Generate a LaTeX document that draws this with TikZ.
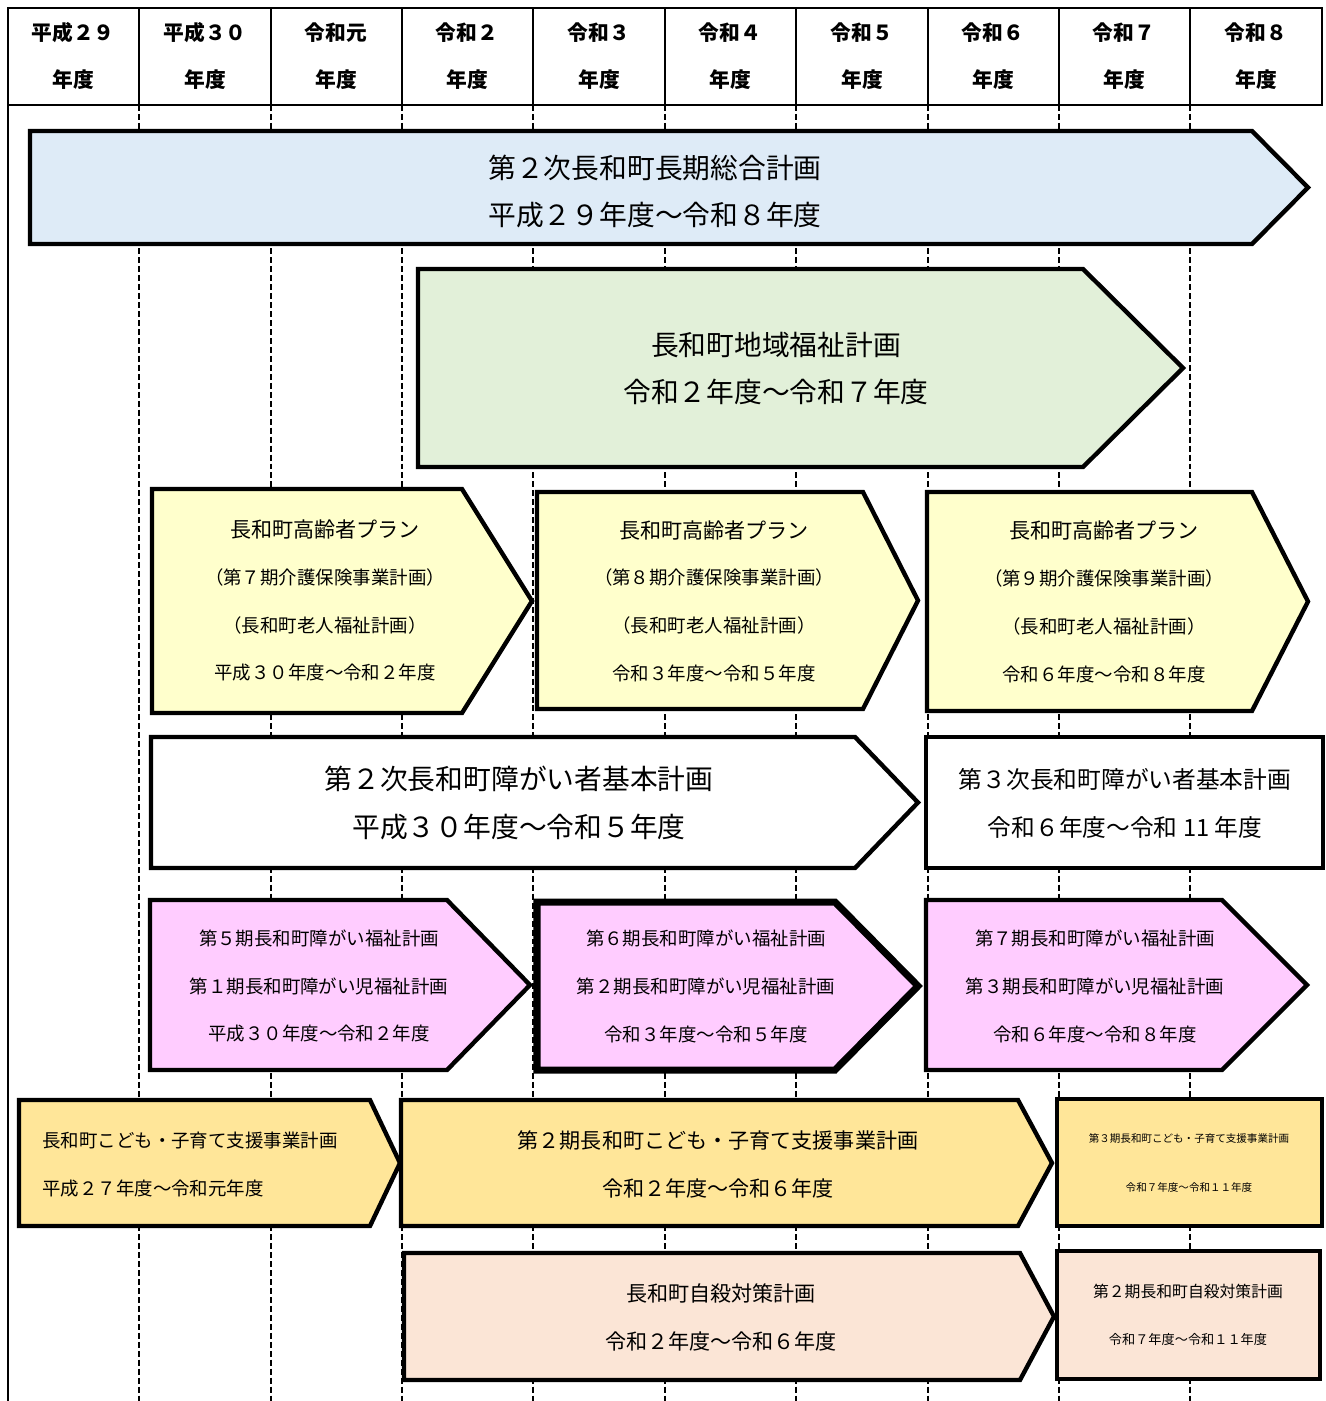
\documentclass[tikz,border=0pt]{standalone}
\usepackage{fontspec}
\setmainfont{Noto Sans CJK JP}
\definecolor{planblue}{RGB}{222,235,247}
\definecolor{plangreen}{RGB}{226,240,217}
\definecolor{planyellow}{RGB}{255,255,204}
\definecolor{planpink}{RGB}{255,204,255}
\definecolor{planorange}{RGB}{255,230,153}
\definecolor{planpeach}{RGB}{251,229,214}
\def\planarrow[#1](#2,#3)(#4,#5)(#6){\draw[#1] (#2,#3) -- (#4,#3) -- (#6,{(#3+#5)/2}) -- (#4,#5) -- (#2,#5) -- cycle;}

\begin{document}
\begin{tikzpicture}[x=0.2mm, y=-0.2mm,
		plan/.style={line width=2.5pt, line join=miter},
		yearline/.style={line width=0.8pt, dash pattern=on 3.4pt off 1.7pt},
		headtxt/.style={inner sep=0pt, font=\fontsize{11.8}{14}\selectfont\bfseries},
		bigtxt/.style={inner sep=0pt, font=\fontsize{15.8}{18}\selectfont},
		midtxt/.style={inner sep=0pt, font=\fontsize{12}{14}\selectfont},
		smalltxt/.style={inner sep=0pt, font=\fontsize{10.5}{12}\selectfont}]
			%%%%% START %%%%%
			\useasboundingbox (0,0) rectangle (1326,1401);
			
			% year table
			\draw[yearline] (139,105) -- (139,1401);
			\draw[yearline] (271,105) -- (271,1401);
			\draw[yearline] (402,105) -- (402,1401);
			\draw[yearline] (533,105) -- (533,1401);
			\draw[yearline] (665,105) -- (665,1401);
			\draw[yearline] (796,105) -- (796,1401);
			\draw[yearline] (928,105) -- (928,1401);
			\draw[yearline] (1059,105) -- (1059,1401);
			\draw[yearline] (1190,105) -- (1190,1401);
			\draw[line width=0.9pt] (8,105) -- (8,1401);
			
			\draw[line width=1.1pt] (8,8) rectangle (1322,105);
			\draw[line width=1.1pt] (139,8) -- (139,105);
			\draw[line width=1.1pt] (271,8) -- (271,105);
			\draw[line width=1.1pt] (402,8) -- (402,105);
			\draw[line width=1.1pt] (533,8) -- (533,105);
			\draw[line width=1.1pt] (665,8) -- (665,105);
			\draw[line width=1.1pt] (796,8) -- (796,105);
			\draw[line width=1.1pt] (928,8) -- (928,105);
			\draw[line width=1.1pt] (1059,8) -- (1059,105);
			\draw[line width=1.1pt] (1190,8) -- (1190,105);
			
			\node[headtxt] (h1a) at (73,33) {平成２９};
			\node[headtxt] (h1b) at (73,80) {年度};
			\node[headtxt] (h2a) at (205,33) {平成３０};
			\node[headtxt] (h2b) at (205,80) {年度};
			\node[headtxt] (h3a) at (336,33) {令和元};
			\node[headtxt] (h3b) at (336,80) {年度};
			\node[headtxt] (h4a) at (467,33) {令和２};
			\node[headtxt] (h4b) at (467,80) {年度};
			\node[headtxt] (h5a) at (599,33) {令和３};
			\node[headtxt] (h5b) at (599,80) {年度};
			\node[headtxt] (h6a) at (730,33) {令和４};
			\node[headtxt] (h6b) at (730,80) {年度};
			\node[headtxt] (h7a) at (862,33) {令和５};
			\node[headtxt] (h7b) at (862,80) {年度};
			\node[headtxt] (h8a) at (993,33) {令和６};
			\node[headtxt] (h8b) at (993,80) {年度};
			\node[headtxt] (h9a) at (1124,33) {令和７};
			\node[headtxt] (h9b) at (1124,80) {年度};
			\node[headtxt] (h10a) at (1256,33) {令和８};
			\node[headtxt] (h10b) at (1256,80) {年度};
			
			% general plan
			\planarrow[plan, fill=planblue](30,131)(1252,244)(1308)
			\node[bigtxt] (sogo1) at (655,168) {第２次長和町長期総合計画};
			\node[bigtxt] (sogo2) at (655,215) {平成２９年度～令和８年度};
			
			% welfare plan
			\planarrow[plan, fill=plangreen](418,269)(1083,467)(1183)
			\node[bigtxt] (chiiki1) at (776,345) {長和町地域福祉計画};
			\node[bigtxt] (chiiki2) at (776,392) {令和２年度～令和７年度};
			
			% elderly plans
			\planarrow[plan, fill=planyellow](152,489)(462,713)(532)
			\node[midtxt] (korei1a) at (325,529) {長和町高齢者プラン};
			\node[smalltxt] (korei1b) at (325,577) {（第７期介護保険事業計画）};
			\node[smalltxt] (korei1c) at (325,625) {（長和町老人福祉計画）};
			\node[smalltxt] (korei1d) at (325,673) {平成３０年度～令和２年度};
			
			\planarrow[plan, fill=planyellow](537,492)(863,709)(918)
			\node[midtxt] (korei2a) at (714,530) {長和町高齢者プラン};
			\node[smalltxt] (korei2b) at (714,577) {（第８期介護保険事業計画）};
			\node[smalltxt] (korei2c) at (714,625) {（長和町老人福祉計画）};
			\node[smalltxt] (korei2d) at (714,673) {令和３年度～令和５年度};
			
			\planarrow[plan, fill=planyellow](927,492)(1252,711)(1308)
			\node[midtxt] (korei3a) at (1104,530) {長和町高齢者プラン};
			\node[smalltxt] (korei3b) at (1104,578) {（第９期介護保険事業計画）};
			\node[smalltxt] (korei3c) at (1104,626) {（長和町老人福祉計画）};
			\node[smalltxt] (korei3d) at (1104,674) {令和６年度～令和８年度};
			
			% disability basic plans
			\planarrow[plan, fill=white](151,737)(855,868)(918)
			\node[bigtxt] (shogai1a) at (519,779) {第２次長和町障がい者基本計画};
			\node[bigtxt] (shogai1b) at (519,827) {平成３０年度～令和５年度};
			
			\draw[plan, fill=white] (926,737) rectangle (1323,868);
			\node[inner sep=0pt, font=\fontsize{13.5}{16}\selectfont] (shogai2a) at (1125,779) {第３次長和町障がい者基本計画};
			\node[inner sep=0pt, font=\fontsize{13.5}{16}\selectfont] (shogai2b) at (1125,827) {令和６年度～令和 11 年度};
			
			% disability welfare plans
			\planarrow[plan, fill=planpink](150,900)(447,1070)(530)
			\node[smalltxt] (fukushi1a) at (319,938) {第５期長和町障がい福祉計画};
			\node[smalltxt] (fukushi1b) at (319,986) {第１期長和町障がい児福祉計画};
			\node[smalltxt] (fukushi1c) at (319,1034) {平成３０年度～令和２年度};
			
			\planarrow[line width=4pt, line join=miter, fill=planpink](537,902)(835,1070)(918)
			\node[smalltxt] (fukushi2a) at (706,938) {第６期長和町障がい福祉計画};
			\node[smalltxt] (fukushi2b) at (706,986) {第２期長和町障がい児福祉計画};
			\node[smalltxt] (fukushi2c) at (706,1034) {令和３年度～令和５年度};
			
			\planarrow[plan, fill=planpink](926,900)(1222,1070)(1307)
			\node[smalltxt] (fukushi3a) at (1095,938) {第７期長和町障がい福祉計画};
			\node[smalltxt] (fukushi3b) at (1095,986) {第３期長和町障がい児福祉計画};
			\node[smalltxt] (fukushi3c) at (1095,1034) {令和６年度～令和８年度};
			
			% child care plans
			\planarrow[plan, fill=planorange](19,1100)(370,1226)(400)
			\node[smalltxt, anchor=west] (kodomo1a) at (42,1140) {長和町こども・子育て支援事業計画};
			\node[smalltxt, anchor=west] (kodomo1b) at (42,1188) {平成２７年度～令和元年度};
			
			\planarrow[plan, fill=planorange](401,1100)(1018,1226)(1052)
			\node[midtxt] (kodomo2a) at (718,1140) {第２期長和町こども・子育て支援事業計画};
			\node[midtxt] (kodomo2b) at (718,1188) {令和２年度～令和６年度};
			
			\draw[plan, fill=planorange] (1057,1099) rectangle (1322,1226);
			\node[inner sep=0pt, font=\fontsize{6}{7}\selectfont] (kodomo3a) at (1189,1138) {第３期長和町こども・子育て支援事業計画};
			\node[inner sep=0pt, font=\fontsize{6}{7}\selectfont] (kodomo3b) at (1189,1187) {令和７年度～令和１１年度};
			
			% suicide prevention plans
			\planarrow[plan, fill=planpeach](404,1253)(1020,1380)(1054)
			\node[midtxt] (jisatsu1a) at (721,1293) {長和町自殺対策計画};
			\node[midtxt] (jisatsu1b) at (721,1341) {令和２年度～令和６年度};
			
			\draw[plan, fill=planpeach] (1057,1251) rectangle (1320,1379);
			\node[inner sep=0pt, font=\fontsize{9}{11}\selectfont] (jisatsu2a) at (1188,1291) {第２期長和町自殺対策計画};
			\node[inner sep=0pt, font=\fontsize{7.5}{9}\selectfont] (jisatsu2b) at (1188,1339) {令和７年度～令和１１年度};
			
			%%%%% END %%%%%
\end{tikzpicture}
\end{document}
